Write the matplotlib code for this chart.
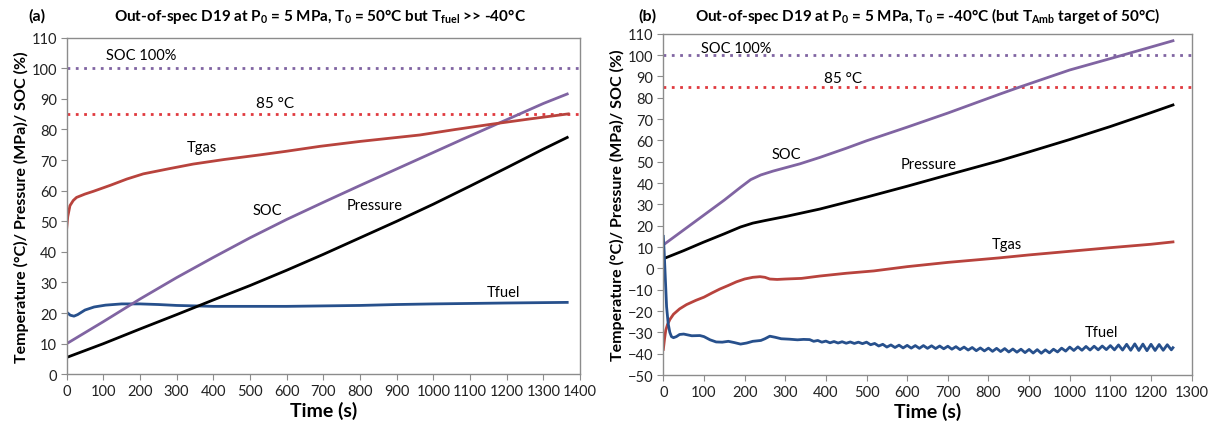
import matplotlib.pyplot as plt
import numpy as np

plt.rcParams['font.family'] = ['Lato', 'DejaVu Sans']
plt.rcParams['mathtext.fontset'] = 'custom'
plt.rcParams['mathtext.rm'] = 'Lato:bold'
plt.rcParams['mathtext.it'] = 'Lato:bold'
plt.rcParams['mathtext.bf'] = 'Lato:bold'
plt.rcParams['mathtext.default'] = 'rm'

# ---- panel (a) data ----
a_soc_t = [0, 100, 200, 300, 400, 500, 600, 700, 800, 900, 1000, 1100, 1200, 1300, 1365]
a_soc = [10, 17.2, 24.6, 31.6, 38.2, 44.6, 50.6, 56.2, 61.7, 67.1, 72.5, 77.9, 83.2, 88.5, 91.6]

a_p_t = [0, 100, 200, 300, 400, 500, 600, 700, 800, 900, 1000, 1100, 1200, 1300, 1365]
a_p = [5.5, 10, 14.8, 19.5, 24.3, 29, 34, 39.2, 44.6, 50, 55.6, 61.5, 67.5, 73.6, 77.4]

a_tgas_t = [0, 3, 9, 18, 27, 50, 73, 120, 164, 209, 280, 345, 430, 527, 600, 691,
            800, 963, 1060, 1163, 1260, 1368]
a_tgas = [47.5, 51.5, 55.1, 56.8, 57.8, 58.9, 59.8, 61.8, 63.8, 65.5, 67.2, 68.7, 70.2,
          71.7, 72.9, 74.5, 76.1, 78.2, 80.0, 81.8, 83.4, 85.1]

a_tfuel_t = [0, 10, 20, 30, 50, 75, 106, 150, 200, 250, 300, 400, 600, 800, 900, 1000, 1200, 1365]
a_tfuel = [20.3, 19.3, 19.0, 19.5, 21.0, 22.0, 22.6, 23.0, 23.0, 22.8, 22.5, 22.2, 22.2,
           22.5, 22.8, 23.0, 23.3, 23.5]

# ---- panel (b) data ----
b_soc_t = [0, 50, 100, 150, 190, 215, 240, 270, 303, 336, 385, 450, 500, 600, 700, 828, 877,
           1000, 1131, 1254]
b_soc = [11, 18, 25, 32, 38, 41.6, 43.8, 45.6, 47.3, 49.0, 52.0, 56.3, 59.8, 66.2, 72.8,
         81.7, 85, 93, 100, 106.7]

b_p_t = [0, 50, 98, 150, 190, 220, 250, 303, 385, 500, 600, 700, 828, 900, 1000, 1100, 1200, 1254]
b_p = [4.5, 8.3, 12.2, 16.2, 19.4, 21.2, 22.4, 24.4, 27.8, 33.4, 38.5, 43.8, 50.5, 54.6, 60.4,
       66.5, 73, 76.6]

b_tgas_t = [0, 3, 6, 10, 16, 25, 40, 57, 80, 100, 120, 139, 160, 180, 200, 220, 238, 250,
            262, 280, 300, 340, 385, 450, 518, 600, 700, 826, 900, 1000, 1100, 1200, 1254]
b_tgas = [-38, -33, -29, -26.5, -24, -21.5, -19, -17, -15, -13.5, -11.5, -9.7, -8, -6.3,
          -5, -4.2, -3.9, -4.2, -5, -5.2, -5, -4.7, -3.6, -2.3, -1.2, 0.8, 2.8, 4.9, 6.3,
          8, 9.7, 11.3, 12.4]

b_tfuel_t = [0, 2, 5, 8, 12, 16, 20, 25, 32, 40, 50, 60, 70, 90, 100, 115, 130, 145, 160,
             175, 190, 205, 220, 240, 250, 262, 275, 290, 310, 330, 345,
             360, 370, 380, 390, 400, 410, 420, 430, 440, 450, 460, 470, 480, 490,
             500, 510, 520, 530, 540, 550, 560, 570, 580, 590, 600, 610, 620, 630,
             640, 650, 660, 670, 680, 690, 700, 710, 720, 730, 740, 750, 760, 770,
             780, 790, 800, 810, 820, 830, 840, 850, 860, 870, 880, 890, 900, 910,
             920, 930, 940, 950, 960, 970, 980, 990, 1000, 1010, 1020, 1030, 1040,
             1050, 1060, 1070, 1080, 1090, 1100, 1110, 1120, 1130, 1140, 1150, 1160,
             1170, 1180, 1190, 1200, 1210, 1220, 1230, 1240, 1250, 1254]
b_tfuel = [15, 8, -5, -18, -26, -30, -32, -32.5, -32, -31, -30.8, -31.2, -31.6, -31.5, -32,
           -33.5, -34.5, -34.6, -34.2, -34.8, -35.5, -35, -34.2, -33.8, -33, -31.8, -32.3,
           -33, -33.2, -33.5, -33.3,
           -33.4, -34.2, -33.8, -34.6, -34.1, -34.9, -34.3, -35.0, -34.4, -35.1, -34.5,
           -35.2, -34.6, -35.3, -34.6, -35.8, -35.2, -36.4, -35.6, -36.9, -35.9, -37.1,
           -36.0, -37.3, -36.1, -37.4, -36.2, -37.5, -36.2, -37.5, -36.3, -37.6, -36.4,
           -37.7, -36.5, -37.9, -36.7, -38.1, -36.9, -38.3, -37.1, -38.6, -37.3, -38.7,
           -37.4, -38.9, -37.5, -39.0, -37.6, -39.2, -37.8, -39.3, -37.9, -39.5, -38.0,
           -39.7, -38.1, -39.8, -38.2, -39.6, -37.9, -39.2, -37.4, -38.8, -36.9, -38.5,
           -36.8, -38.4, -36.6, -38.3, -36.5, -38.2, -36.4, -38.1, -36.2, -38.2, -35.9,
           -38.3, -35.6, -38.4, -35.4, -38.5, -35.5, -38.6, -35.6, -38.5, -35.7, -38.4,
           -35.8, -38.2, -37.2]

c_soc = '#8064A2'
c_tgas = '#B8433D'
c_p = 'black'
c_tfuel = '#27508C'
c_spine = '#8C8C8C'
ylab = 'Temperature (°C)/ Pressure (MPa)/ SOC (%)'

fig = plt.figure(figsize=(12.14, 4.27), dpi=100)
ax1 = fig.add_axes([0.0549, 0.1211, 0.4229, 0.7883])
ax2 = fig.add_axes([0.5464, 0.1194, 0.4352, 0.7993])


def style(ax, xmax, ymin, ymax):
    ax.set_xlim(0, xmax)
    ax.set_ylim(ymin, ymax)
    ax.set_xticks(np.arange(0, xmax + 1, 100))
    ax.set_yticks(np.arange(ymin, ymax + 1, 10))
    for s in ax.spines.values():
        s.set_color(c_spine)
        s.set_linewidth(1)
    ax.tick_params(direction='out', length=4, color=c_spine, labelsize=10.5,
                   labelcolor='#222222', pad=3)
    ax.set_xlabel('Time (s)', fontsize=14, fontweight='bold', labelpad=2)
    ax.set_ylabel(ylab, fontsize=11.5, fontweight='bold', labelpad=2)


# panel (a)
ax1.axhline(100, color=c_soc, ls=(0, (1, 2)), lw=2)
ax1.axhline(85, color='#E0393E', ls=(0, (1, 2)), lw=2)
ax1.plot(a_tfuel_t, a_tfuel, color=c_tfuel, lw=2)
ax1.plot(a_p_t, a_p, color=c_p, lw=2)
ax1.plot(a_soc_t, a_soc, color=c_soc, lw=2)
ax1.plot(a_tgas_t, a_tgas, color=c_tgas, lw=2)
style(ax1, 1400, 0, 110)
ax1.text(204, 104.3, 'SOC 100%', ha='center', va='center', fontsize=10.5)
ax1.text(568, 88.7, '85 °C', ha='center', va='center', fontsize=11)
ax1.text(368, 74.2, 'Tgas', ha='center', va='center', fontsize=10.5)
ax1.text(547, 53.7, 'SOC', ha='center', va='center', fontsize=10.5)
ax1.text(841, 55.4, 'Pressure', ha='center', va='center', fontsize=10.5)
ax1.text(1190, 26.8, 'Tfuel', ha='center', va='center', fontsize=10.5)

# panel (b)
ax2.axhline(100, color=c_soc, ls=(0, (1, 2)), lw=2)
ax2.axhline(85, color='#E0393E', ls=(0, (1, 2)), lw=2)
ax2.plot(b_p_t, b_p, color=c_p, lw=2)
ax2.plot(b_soc_t, b_soc, color=c_soc, lw=2)
ax2.plot(b_tgas_t, b_tgas, color=c_tgas, lw=2)
ax2.plot(b_tfuel_t, b_tfuel, color=c_tfuel, lw=2)
style(ax2, 1300, -50, 110)
ax2.text(180, 103.1, 'SOC 100%', ha='center', va='center', fontsize=10.5)
ax2.text(443, 89.1, '85 °C', ha='center', va='center', fontsize=11)
ax2.text(303, 53.6, 'SOC', ha='center', va='center', fontsize=10.5)
ax2.text(654, 48.9, 'Pressure', ha='center', va='center', fontsize=10.5)
ax2.text(845, 11.4, 'Tgas', ha='center', va='center', fontsize=10.5)
ax2.text(1079, -30, 'Tfuel', ha='center', va='center', fontsize=10.5)

# titles
fig.text(37 / 1214, 1 - 16 / 427, '(a)', ha='center', va='center', fontsize=11.5, fontweight='bold')
fig.text(320 / 1214, 1 - 16 / 427,
         r'Out-of-spec D19 at P$_0$ = 5 MPa, T$_0$ = 50°C but T$_{fuel}$ >> -40°C',
         ha='center', va='center', fontsize=11, fontweight='bold')
fig.text(647 / 1214, 1 - 16 / 427, '(b)', ha='center', va='center', fontsize=11.5, fontweight='bold')
fig.text(928 / 1214, 1 - 16 / 427,
         r'Out-of-spec D19 at P$_0$ = 5 MPa, T$_0$ = -40°C (but T$_{Amb}$ target of 50°C)',
         ha='center', va='center', fontsize=11, fontweight='bold')

fig.savefig('out.png', dpi=100)
